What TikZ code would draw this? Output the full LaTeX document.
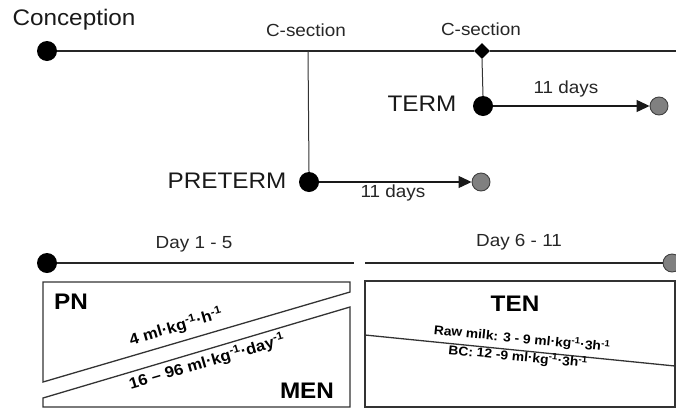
\documentclass[tikz,border=0pt]{standalone}
\usepackage{fontspec}
\setmainfont{Liberation Sans}[FakeStretch=1.08]
\usetikzlibrary{arrows.meta,shapes.geometric}
\begin{document}
\begin{tikzpicture}[x=1pt,y=-1pt,
  bdot/.style={circle,fill=black,inner sep=0pt,minimum size=20pt},
  gdot/.style={circle,fill=black!50,draw=black!75,line width=0.9pt,inner sep=0pt,minimum size=18pt},
  tline/.style={line width=1.2pt,draw=black!85},
  vline/.style={line width=1pt,draw=black!80},
  arr/.style={line width=1.2pt,draw=black!90,-{Triangle[length=13pt,width=12pt]}},
  lbl/.style={font=\fontsize{17.5}{20}\selectfont,inner sep=0pt,text=black!85},
  big/.style={font=\fontsize{22.5}{24}\selectfont,inner sep=0pt,text=black!90},
  bbig/.style={font=\fontsize{22.5}{24}\selectfont\bfseries,inner sep=0pt},
  dose/.style={font=\fontsize{15.5}{17}\selectfont\bfseries,inner sep=0pt},
  sdose/.style={font=\fontsize{12.8}{14}\selectfont\bfseries,inner sep=0pt},
  boxline/.style={line width=1.3pt,draw=black!80}
]
\useasboundingbox (0,0) rectangle (676,410);
% top timeline
\node[bdot] (conc) at (47,51) {};
\node[big] (conclbl) at (74,20) {Conception};
\coordinate (topend) at (676,51);
\coordinate (cs1) at (308,51);
\node[diamond,fill=black,inner sep=0pt,minimum size=16pt] (cs2) at (482,51) {};
\draw[tline] (conc.east) -- (cs2.west);
\draw[tline] (cs2.east) -- (topend);
\node[lbl] (cs1lbl) at (306,30) {C-section};
\node[lbl] (cs2lbl) at (481,29) {C-section};
% preterm
\node[bdot] (pre) at (309,182) {};
\node[big] (prelbl) at (227,181) {PRETERM};
\node[gdot] (preend) at (481,182) {};
\draw[vline] (cs1) -- (pre.north);
\draw[arr] (pre.east) -- (preend.west);
\node[lbl] (predays) at (393,193) {11 days};
% term
\node[bdot] (term) at (483,106) {};
\node[big] (termlbl) at (422,104) {TERM};
\node[gdot] (termend) at (659,106) {};
\draw[vline] (cs2.south) -- (term.north);
\draw[arr] (term.east) -- (termend.west);
\node[lbl] (termdays) at (566,89) {11 days};
% bottom timeline
\node[bdot] (d1) at (47,263) {};
\coordinate (d5) at (354,263);
\coordinate (d6) at (365,263);
\node[gdot] (d11) at (672,263) {};
\draw[tline] (d1.east) -- (d5);
\draw[tline] (d6) -- (d11.west);
\node[lbl] (day15) at (194,244) {Day 1 - 5};
\node[lbl] (day611) at (519,242) {Day 6 - 11};
% left box
\draw[boxline] (43,282) -- (350,282) -- (350,292) -- (43,382) -- cycle;
\draw[boxline] (43,398) -- (350,307) -- (350,407) -- (43,407) -- cycle;
\node[bbig] (pn) at (71,302) {PN};
\node[bbig] (men) at (307,391) {MEN};
\node[dose,rotate=16.3] (pndose) at (176,327) {4 ml·kg\textsuperscript{-1}·h\textsuperscript{-1}};
\node[dose,rotate=16.3] (mendose) at (207,362) {16 – 96 ml·kg\textsuperscript{-1}·day\textsuperscript{-1}};
% right box
\draw[boxline] (365,281) rectangle (675,407);
\draw[boxline] (365,335) -- (675,366);
\node[bbig] (ten) at (515,304) {TEN};
\node[sdose,rotate=-5.6] (raw) at (522,339) {Raw milk: 3 - 9 ml·kg\textsuperscript{-1}·3h\textsuperscript{-1}};
\node[sdose,rotate=-5.6] (bc) at (518,357) {BC: 12 -9 ml·kg\textsuperscript{-1}·3h\textsuperscript{-1}};
\end{tikzpicture}
\end{document}
